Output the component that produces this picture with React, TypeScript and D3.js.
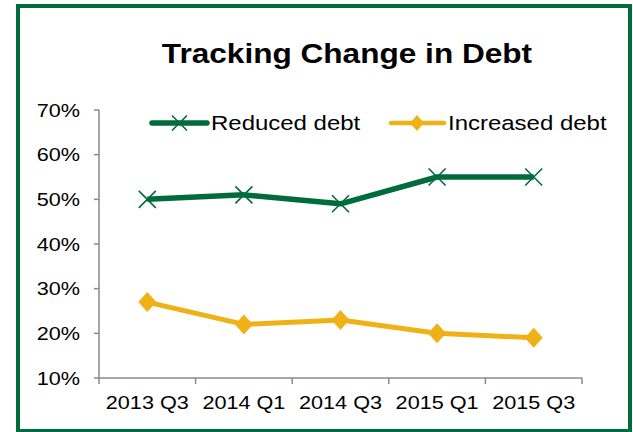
import React from 'react';
import * as d3 from 'd3';

// chart data
const quarters = ['2013 Q3', '2014 Q1', '2014 Q3', '2015 Q1', '2015 Q3'];
const reducedDebt = [50, 51, 49, 55, 55];
const increasedDebt = [27, 22, 23, 20, 19];
const yTicks = [10, 20, 30, 40, 50, 60, 70];

const WIDTH = 633;
const HEIGHT = 432;
const GREEN = '#006B3D';
const GOLD = '#EFB116';
const AXIS = '#8A8A8A';
const FONT = '"Liberation Sans", Arial, sans-serif';
// the reference text is stretched sideways a bit
const SX = 1.17;

const Label: React.FC<{
	x: number;
	y: number;
	size: number;
	anchor?: string;
	bold?: boolean;
	dy?: string;
	children: React.ReactNode;
}> = ({ x, y, size, anchor = 'start', bold = false, dy, children }) => (
	<text
		transform={`translate(${x},${y}) scale(${SX},1)`}
		textAnchor={anchor}
		dy={dy}
		fontSize={size}
		fontWeight={bold ? 'bold' : 'normal'}
		fontFamily={FONT}
		fill="#000"
	>
		{children}
	</text>
);

const Cross: React.FC<{ x: number; y: number; r?: number }> = ({ x, y, r = 8.5 }) => (
	<path
		d={`M${x - r},${y - r}L${x + r},${y + r}M${x - r},${y + r}L${x + r},${y - r}`}
		stroke={GREEN}
		strokeWidth={1.6}
		fill="none"
	/>
);

const Diamond: React.FC<{ x: number; y: number; w?: number; h?: number }> = ({
	x,
	y,
	w = 9,
	h = 10,
}) => <path d={`M${x},${y - h}L${x + w},${y}L${x},${y + h}L${x - w},${y}Z`} fill={GOLD} />;

const App: React.FC = () => {
	const plot = { left: 99, right: 582, top: 110, bottom: 378 };

	const x = d3.scaleBand<string>().domain(quarters).range([plot.left, plot.right]).padding(0);
	const cx = (q: string) => (x(q) as number) + x.bandwidth() / 2;
	const y = d3.scaleLinear().domain([10, 70]).range([plot.bottom, plot.top]);

	const line = d3
		.line<number>()
		.x((_, i) => cx(quarters[i]))
		.y((d) => y(d));

	const tickXs = [...quarters.map((q) => x(q) as number), plot.right];

	return (
		<svg
			width={WIDTH}
			height={HEIGHT}
			style={{ position: 'absolute', left: 0, top: 0, background: '#fff' }}
		>
			{/* outer frame */}
			<rect x={18} y={6} width={612} height={425} fill="#fff" stroke={GREEN} strokeWidth={4} />

			<Label x={347} y={62.5} size={27} anchor="middle" bold>
				Tracking Change in Debt
			</Label>

			{/* y axis */}
			<line x1={plot.left} x2={plot.left} y1={plot.top} y2={plot.bottom} stroke={AXIS} strokeWidth={1.5} />
			{yTicks.map((t) => (
				<g key={t}>
					<line x1={plot.left - 5} x2={plot.left} y1={y(t)} y2={y(t)} stroke={AXIS} strokeWidth={1.5} />
					<Label x={80} y={y(t)} size={18.5} anchor="end" dy="0.36em">
						{`${t}%`}
					</Label>
				</g>
			))}

			{/* x axis */}
			<line x1={plot.left} x2={plot.right} y1={plot.bottom} y2={plot.bottom} stroke={AXIS} strokeWidth={1.5} />
			{tickXs.map((tx, i) => (
				<line key={i} x1={tx} x2={tx} y1={plot.bottom} y2={plot.bottom + 6} stroke={AXIS} strokeWidth={1.5} />
			))}
			{quarters.map((q) => (
				<Label key={q} x={cx(q)} y={409} size={18.5} anchor="middle">
					{q}
				</Label>
			))}

			{/* series */}
			<path d={line(increasedDebt) as string} fill="none" stroke={GOLD} strokeWidth={5} strokeLinejoin="round" />
			{increasedDebt.map((v, i) => (
				<Diamond key={i} x={cx(quarters[i])} y={y(v)} />
			))}
			<path d={line(reducedDebt) as string} fill="none" stroke={GREEN} strokeWidth={5.5} strokeLinejoin="round" />
			{reducedDebt.map((v, i) => (
				<Cross key={i} x={cx(quarters[i])} y={y(v)} />
			))}

			{/* legend */}
			<line x1={152} x2={207} y1={123} y2={123} stroke={GREEN} strokeWidth={5.5} strokeLinecap="round" />
			<Cross x={179.5} y={123} r={7.5} />
			<Label x={211} y={123} size={20.5} dy="0.35em">
				Reduced debt
			</Label>
			<line x1={391} x2={444} y1={123} y2={123} stroke={GOLD} strokeWidth={4.5} strokeLinecap="round" />
			<Diamond x={417} y={123} w={7} h={8} />
			<Label x={448} y={123} size={20.5} dy="0.35em">
				Increased debt
			</Label>
		</svg>
	);
};

export default App;
